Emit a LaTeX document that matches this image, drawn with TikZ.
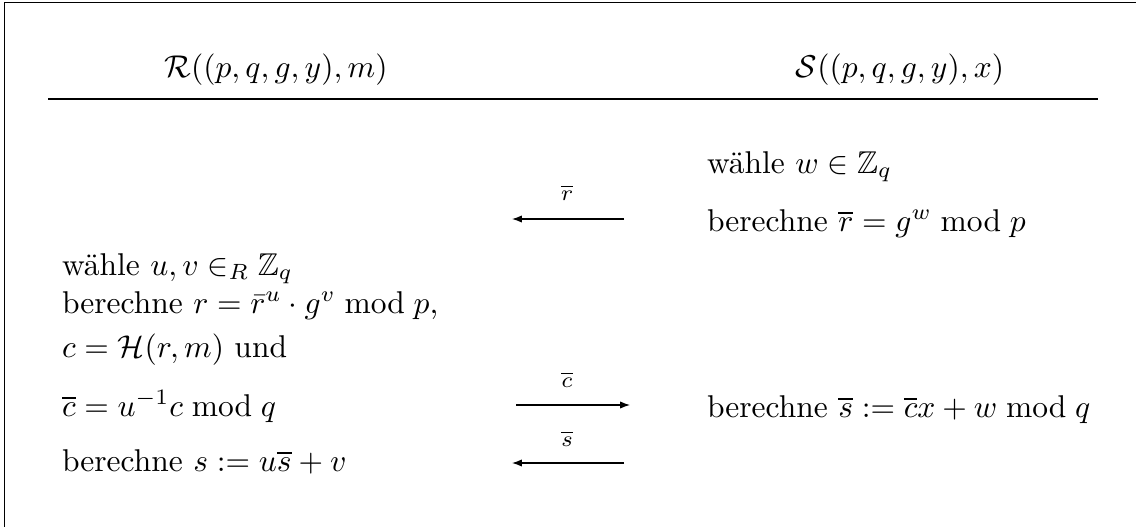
\documentclass[tikz,border=0pt]{standalone}
\usepackage{amssymb}
\usetikzlibrary{arrows.meta}
\begin{document}
\begin{tikzpicture}[x=0.3175pt,y=-0.3175pt,
  txt/.style={anchor=base west,inner sep=0pt,outer sep=0pt},
  hdr/.style={anchor=base,inner sep=0pt,outer sep=0pt},
  lbl/.style={anchor=base,inner sep=0pt,outer sep=0pt,font=\scriptsize},
  msg/.style={line width=0.4pt,-{Latex[length=3.1pt,width=2.3pt]}},
  frm/.style={line width=0.45pt}]
\useasboundingbox (0,0) rectangle (1136,527);
% frame
\coordinate (fbl) at (4.5,527);
\coordinate (ftl) at (4.5,2.3);
\coordinate (ftr) at (1136,2.3);
\draw[frm] (fbl) -- (ftl) -- (ftr);
% headers
\node[hdr] (hR) at (276,77) {$\mathcal{R}((p,q,g,y),m)$};
\node[hdr] (hS) at (900,77) {$\mathcal{S}((p,q,g,y),x)$};
\coordinate (rl) at (48,99);
\coordinate (rr) at (1098,99);
\draw[frm] (rl) -- (rr);
% right column
\node[txt] (s1) at (707,173) {wähle $w\in\mathbb{Z}_q$};
\node[txt] (s2) at (707,231) {berechne $\overline{r}=g^w \bmod p$};
\node[txt] (s3) at (707,417) {berechne $\overline{s}:=\overline{c}x+w \bmod q$};
% left column
\node[txt] (l1) at (62,275) {wähle $u,v\in_R\mathbb{Z}_q$};
\node[txt] (l2) at (62,313) {berechne $r=\bar{r}^u\cdot g^v \bmod p$,};
\node[txt] (l3) at (62,357) {$c=\mathcal{H}(r,m)$ und};
\node[txt] (l4) at (62,416) {$\overline{c}=u^{-1}c \bmod q$};
\node[txt] (l5) at (62,471) {berechne $s:=u\overline{s}+v$};
% messages
\coordinate (a1s) at (624,219); \coordinate (a1e) at (512,219);
\coordinate (a2s) at (516,405); \coordinate (a2e) at (630,405);
\coordinate (a3s) at (624,463); \coordinate (a3e) at (512,463);
\draw[msg] (a1s) -- (a1e);
\draw[msg] (a2s) -- (a2e);
\draw[msg] (a3s) -- (a3e);
\node[lbl] (m1) at (567,200) {$\overline{r}$};
\node[lbl] (m2) at (567,387) {$\overline{c}$};
\node[lbl] (m3) at (567,446) {$\overline{s}$};
\end{tikzpicture}
\end{document}
